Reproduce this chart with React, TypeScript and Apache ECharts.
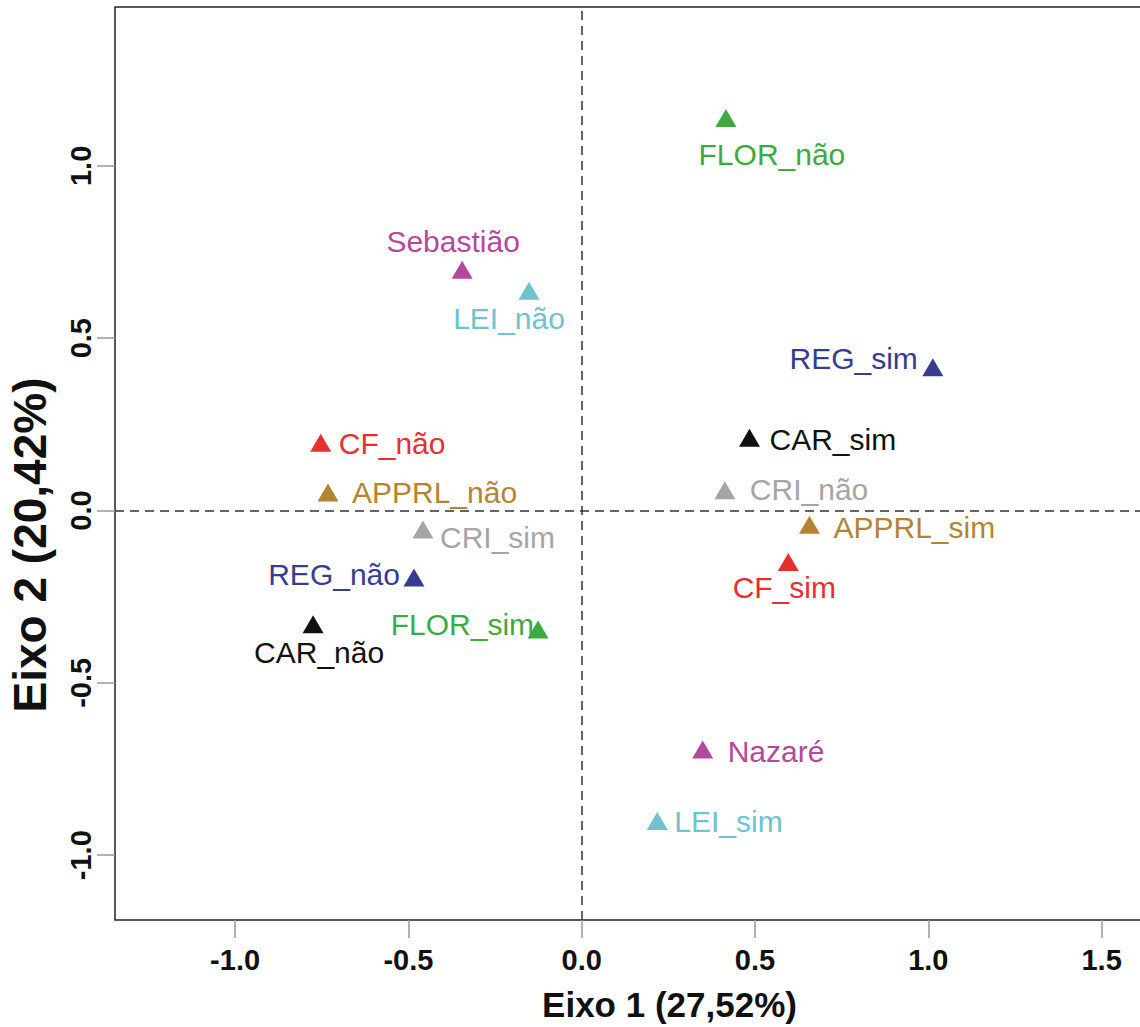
import React, { useEffect, useRef } from "react";
import * as echarts from "echarts";

// ---- data ----
const pointNames = [
  "FLOR_não", "Sebastião", "LEI_não", "REG_sim", "CAR_sim", "CF_não", "APPRL_não", "CRI_não",
  "APPRL_sim", "CRI_sim", "CF_sim", "REG_não", "CAR_não", "FLOR_sim", "Nazaré", "LEI_sim",
];
const axis1Values = [
  0.416, -0.345, -0.152, 1.013, 0.484, -0.753, -0.732, 0.413,
  0.657, -0.458, 0.596, -0.484, -0.775, -0.126, 0.349, 0.218,
];
const axis2Values = [
  1.139, 0.699, 0.638, 0.416, 0.211, 0.197, 0.052, 0.059,
  -0.041, -0.055, -0.149, -0.194, -0.330, -0.345, -0.693, -0.901,
];
const pointGroups = [
  "FLOR", "LOCAL", "LEI", "REG", "CAR", "CF", "APPRL", "CRI",
  "APPRL", "CRI", "CF", "REG", "CAR", "FLOR", "LOCAL", "LEI",
];
const xTickValues = [-1.0, -0.5, 0.0, 0.5, 1.0, 1.5];
const yTickValues = [-1.0, -0.5, 0.0, 0.5, 1.0];
const xAxisTitle = "Eixo 1 (27,52%)";
const yAxisTitle = "Eixo 2 (20,42%)";

// ---- styles ----
const groupColors: Record<string, string> = {
  FLOR: "#3DAA3F",
  LOCAL: "#B4489A",
  LEI: "#6EC3CD",
  REG: "#373C91",
  CAR: "#111111",
  CF: "#E53030",
  APPRL: "#B48432",
  CRI: "#A8A4A4",
};

// label anchor relative to symbol centre (pixels)
const labelPlacement: Record<string, { align: string; dx: number; dy: number }> = {
  "FLOR_não": { align: "center", dx: 46, dy: 37 },
  "Sebastião": { align: "center", dx: -9, dy: -28 },
  "LEI_não": { align: "center", dx: -20, dy: 28 },
  "REG_sim": { align: "right", dx: -15, dy: -9 },
  "CAR_sim": { align: "left", dx: 20, dy: 2 },
  "CF_não": { align: "left", dx: 18, dy: 1 },
  "APPRL_não": { align: "left", dx: 24, dy: 0 },
  "CRI_não": { align: "left", dx: 25, dy: -1 },
  "APPRL_sim": { align: "left", dx: 24, dy: 3 },
  "CRI_sim": { align: "left", dx: 17, dy: 8 },
  "CF_sim": { align: "center", dx: -4, dy: 26 },
  "REG_não": { align: "right", dx: -14, dy: -3 },
  "CAR_não": { align: "center", dx: 6, dy: 28 },
  "FLOR_sim": { align: "right", dx: -4, dy: -5 },
  "Nazaré": { align: "left", dx: 25, dy: 2 },
  "LEI_sim": { align: "left", dx: 17, dy: 0 },
};

const FONT = "'Liberation Sans', Arial, Helvetica, sans-serif";

export default function App() {
  const ref = useRef<HTMLDivElement>(null);

  useEffect(() => {
    if (!ref.current) return;
    const chart = echarts.init(ref.current, undefined, { renderer: "svg" });

    const data = pointNames.map((name, i) => {
      const color = groupColors[pointGroups[i]];
      const p = labelPlacement[name];
      return {
        name,
        value: [axis1Values[i], axis2Values[i]],
        itemStyle: { color, opacity: 1 },
        label: {
          show: true,
          position: "inside",
          formatter: name,
          color,
          opacity: 1,
          align: p.align,
          verticalAlign: "middle",
          offset: [p.dx, p.dy],
          fontSize: 30,
          fontFamily: FONT,
        },
      };
    });

    chart.setOption({
      animation: false,
      grid: {
        left: 115,
        top: 7,
        right: 6,
        bottom: 106,
        show: true,
        borderColor: "#222",
        borderWidth: 1.5,
        backgroundColor: "transparent",
      },
      xAxis: {
        type: "value",
        min: -1.3465,
        max: 1.853,
        axisLine: { show: false, onZero: false },
        splitLine: { show: false },
        axisTick: {
          show: true,
          length: 18,
          customValues: xTickValues,
          lineStyle: { color: "#999", width: 1.5 },
        },
        axisLabel: {
          customValues: xTickValues,
          formatter: (v: number) => v.toFixed(1),
          fontSize: 29,
          fontWeight: "bold",
          fontFamily: FONT,
          color: "#111",
          margin: 25,
        },
        name: xAxisTitle,
        nameLocation: "middle",
        nameGap: 67,
        nameTextStyle: { fontSize: 35, fontWeight: "bold", fontFamily: FONT, color: "#111" },
      },
      yAxis: {
        type: "value",
        min: -1.188,
        max: 1.461,
        axisLine: { show: false, onZero: false },
        splitLine: { show: false },
        axisTick: {
          show: true,
          length: 18,
          customValues: yTickValues,
          lineStyle: { color: "#999", width: 1.5 },
        },
        axisLabel: {
          customValues: yTickValues,
          formatter: (v: number) => v.toFixed(1),
          rotate: 90,
          fontSize: 29,
          fontWeight: "bold",
          fontFamily: FONT,
          color: "#111",
          margin: 20,
        },
      },
      graphic: [
        {
          type: "text",
          x: 30,
          y: 545,
          rotation: Math.PI / 2,
          style: {
            text: yAxisTitle,
            fontSize: 46,
            fontWeight: "bold",
            fontFamily: FONT,
            fill: "#111",
            textAlign: "center",
            textVerticalAlign: "middle",
          },
        },
      ],
      series: [
        {
          type: "scatter",
          symbol: "triangle",
          symbolSize: [21, 18],
          itemStyle: { opacity: 1 },
          data,
          markLine: {
            silent: true,
            symbol: "none",
            label: { show: false },
            lineStyle: { color: "#333", width: 1.5, type: [9, 6] },
            data: [{ xAxis: 0 }, { yAxis: 0 }],
          },
        },
      ],
    });

    return () => chart.dispose();
  }, []);

  return (
    <div
      style={{
        position: "absolute",
        left: 0,
        top: 0,
        width: 1140,
        height: 1027,
        overflow: "hidden",
        background: "#fff",
      }}
    >
      <div ref={ref} style={{ width: 1230, height: 1027 }} />
    </div>
  );
}
